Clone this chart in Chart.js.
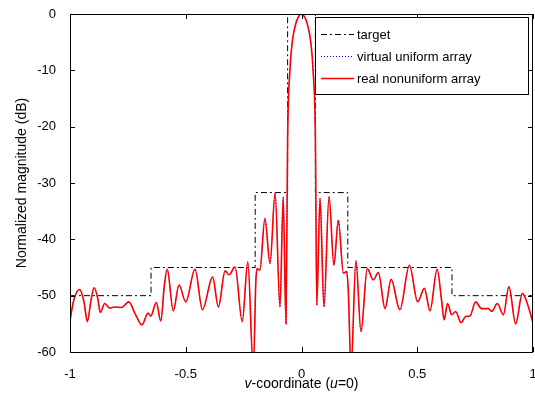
<!DOCTYPE html>
<html>
<head>
<meta charset="utf-8">
<script src="https://cdn.jsdelivr.net/npm/chart.js@4.4.1/dist/chart.umd.min.js"></script>
<style>
html,body{margin:0;padding:0;background:#fff;}
canvas{display:block;}
</style>
</head>
<body>
<canvas id="c" width="535" height="393"></canvas>
<script>
// ---- data ----
const vCoord = [-1.000,-0.985,-0.958,-0.940,-0.925,-0.910,-0.896,-0.880,-0.869,-0.850,-0.829,-0.807,-0.778,-0.746,-0.720,-0.689,-0.663,-0.651,-0.627,-0.608,-0.592,-0.580,-0.554,-0.529,-0.500,-0.460,-0.428,-0.384,-0.359,-0.330,-0.313,-0.287,-0.256,-0.232,-0.208,-0.197,-0.191,-0.180,-0.158,-0.136,-0.114,-0.093,-0.079,-0.067,-0.060,-0.050,-0.040,-0.030,-0.020,-0.010,0.000,0.010,0.020,0.030,0.040,0.050,0.060,0.066,0.080,0.097,0.119,0.140,0.159,0.181,0.195,0.202,0.214,0.235,0.257,0.284,0.310,0.332,0.361,0.387,0.425,0.466,0.502,0.531,0.555,0.586,0.605,0.616,0.631,0.649,0.666,0.689,0.709,0.728,0.752,0.778,0.807,0.822,0.846,0.872,0.896,0.925,0.954,0.984,1.000];
const realNonuniformDb = [-54.5,-51.0,-48.9,-51.0,-54.6,-51.0,-48.6,-50.5,-53.0,-51.4,-52.2,-52.0,-52.1,-51.1,-53.1,-55.2,-53.1,-53.6,-51.2,-54.5,-48.0,-45.3,-52.7,-48.1,-51.1,-45.3,-52.5,-46.7,-52.0,-45.6,-46.3,-44.9,-54.6,-44.0,-63.0,-47.2,-45.2,-45.5,-36.3,-44.3,-31.8,-52.0,-32.5,-55.0,-22.0,-10.0,-5.0,-2.6,-1.1,-0.3,0.0,-0.3,-1.1,-2.6,-5.0,-10.0,-22.0,-51.7,-32.7,-52.0,-32.4,-44.6,-36.6,-46.0,-45.7,-49.0,-63.0,-43.8,-56.4,-45.2,-47.2,-45.9,-52.3,-47.1,-52.5,-44.6,-51.1,-48.7,-52.7,-45.3,-50.8,-54.3,-51.4,-53.4,-52.8,-54.8,-53.7,-53.6,-51.1,-52.3,-52.3,-52.8,-51.4,-53.4,-48.4,-55.0,-49.6,-52.5,-54.9];
const virtualUniformDb = realNonuniformDb.slice(); // hidden beneath the red curve in the reference
const targetV = [-1,-0.65,-0.65,-0.2,-0.2,-0.06,-0.06,0.06,0.06,0.2,0.2,0.65,0.65,1];
const targetDb = [-50,-50,-45,-45,-31.7,-31.7,0,0,-31.7,-31.7,-45,-45,-50,-50];
const xTickValues = [-1,-0.5,0,0.5,1];
const yTickValues = [-60,-50,-40,-30,-20,-10,0];
const seriesNames = ['target','virtual uniform array','real nonuniform array'];

const FONT = '"Liberation Sans", Arial, sans-serif';
const pts = (xa, ya) => xa.map((x,i)=>({x:x,y:ya[i]}));

const framePlugin = {
  id:'frame',
  afterDatasetsDraw(chart){
    const ctx = chart.ctx, a = chart.chartArea;
    const xs = chart.scales.x, ys = chart.scales.y;
    ctx.save();
    ctx.strokeStyle = '#000'; ctx.lineWidth = 1;
    ctx.strokeRect(Math.round(a.left)+0.5, Math.round(a.top)+0.5, Math.round(a.right-a.left)-1, Math.round(a.bottom-a.top));
    const L = 5;
    ctx.beginPath();
    xTickValues.forEach(v=>{
      const px = Math.round(xs.getPixelForValue(v))+0.5;
      ctx.moveTo(px, a.bottom); ctx.lineTo(px, a.bottom-L);
      ctx.moveTo(px, a.top); ctx.lineTo(px, a.top+L);
    });
    yTickValues.forEach(v=>{
      const py = Math.round(ys.getPixelForValue(v))+0.5;
      ctx.moveTo(a.left, py); ctx.lineTo(a.left+L, py);
      ctx.moveTo(a.right, py); ctx.lineTo(a.right-L, py);
    });
    ctx.stroke();

    // legend
    const lx = 315, ly = 17, lw = 213, lh = 77;
    ctx.fillStyle = '#fff';
    ctx.fillRect(lx, ly, lw, lh);
    ctx.strokeStyle = '#000';
    ctx.strokeRect(lx+0.5, ly+0.5, lw, lh);
    const rows = [34, 56, 78];
    const styles = [
      {c:'#000', d:[6,3,2,3], w:1},
      {c:'#0000ff', d:[1,2], w:1},
      {c:'#ff0000', d:[], w:1.6}
    ];
    ctx.font = '13px ' + FONT;
    ctx.textBaseline = 'middle'; ctx.textAlign = 'left';
    rows.forEach((ry,i)=>{
      ctx.beginPath();
      ctx.setLineDash(styles[i].d);
      ctx.strokeStyle = styles[i].c; ctx.lineWidth = styles[i].w;
      ctx.moveTo(321, ry+0.5); ctx.lineTo(354, ry+0.5);
      ctx.stroke();
      ctx.setLineDash([]);
      ctx.fillStyle = '#000';
      ctx.fillText(seriesNames[i], 357, ry+1);
    });

    // axis titles
    ctx.fillStyle = '#000';
    ctx.textBaseline = 'middle';
    const parts = [['v',true],['-coordinate (',false],['u',true],['=0)',false]];
    let total = 0;
    parts.forEach(p=>{ ctx.font = (p[1]?'italic ':'') + '14px ' + FONT; total += ctx.measureText(p[0]).width; });
    let x0 = (a.left + a.right)/2 - total/2;
    ctx.textAlign = 'left';
    parts.forEach(p=>{ ctx.font = (p[1]?'italic ':'') + '14px ' + FONT; ctx.fillText(p[0], x0, 384); x0 += ctx.measureText(p[0]).width; });

    ctx.save();
    ctx.translate(22, (a.top + a.bottom)/2);
    ctx.rotate(-Math.PI/2);
    ctx.font = '14px ' + FONT;
    ctx.textAlign = 'center';
    ctx.fillText('Normalized magnitude (dB)', 0, 0);
    ctx.restore();
    ctx.restore();
  }
};

new Chart(document.getElementById('c'), {
  type:'line',
  data:{
    datasets:[
      {label:seriesNames[0], data:pts(targetV,targetDb), borderColor:'#000', borderWidth:1, borderDash:[6,3,2,3], pointRadius:0, tension:0, order:2},
      {label:seriesNames[1], data:pts(vCoord,virtualUniformDb), borderColor:'#0000ff', borderWidth:1, borderDash:[1,2], pointRadius:0, cubicInterpolationMode:'monotone', order:1},
      {label:seriesNames[2], data:pts(vCoord,realNonuniformDb), borderColor:'#ff0000', borderWidth:1.6, pointRadius:0, cubicInterpolationMode:'monotone', order:0}
    ]
  },
  options:{
    responsive:false, animation:false, devicePixelRatio:1,
    layout:{padding:{top:14,right:2,left:0,bottom:0}},
    plugins:{legend:{display:false}, tooltip:{enabled:false}},
    scales:{
      x:{type:'linear', min:-1, max:1,
         afterBuildTicks:s=>{s.ticks = xTickValues.map(v=>({value:v}));},
         afterFit:s=>{s.height = 41; s.paddingLeft = 0; s.paddingRight = 0;},
         grid:{display:false}, border:{display:false},
         ticks:{color:'#000', font:{family:FONT,size:13}, padding:7, maxRotation:0, callback:v=>String(v)}},
      y:{type:'linear', min:-60, max:0,
         afterBuildTicks:s=>{s.ticks = yTickValues.map(v=>({value:v}));},
         afterFit:s=>{s.width = 70; s.paddingTop = 0; s.paddingBottom = 0;},
         grid:{display:false}, border:{display:false},
         ticks:{color:'#000', font:{family:FONT,size:13}, padding:6, callback:v=>String(v)}}
    }
  },
  plugins:[framePlugin]
});
</script>
</body>
</html>
